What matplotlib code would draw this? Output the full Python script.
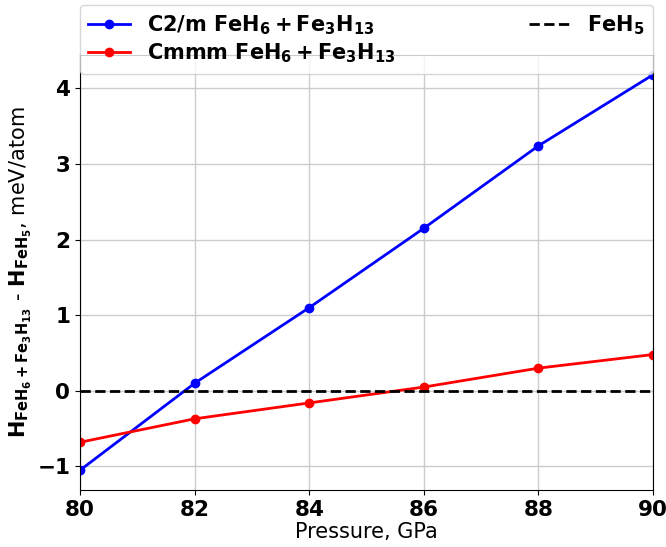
import matplotlib
matplotlib.use("Agg")
import matplotlib.pyplot as plt

pressure = [80, 82, 84, 86, 88, 90]
c2m_diff = [-1.05, 0.10, 1.10, 2.15, 3.24, 4.18]
cmmm_diff = [-0.68, -0.37, -0.16, 0.05, 0.30, 0.48]
x_ticks = [80, 82, 84, 86, 88, 90]
y_ticks = [-1, 0, 1, 2, 3, 4]

label_c2m = r'C2/m $\mathbf{FeH_6 + Fe_3H_{13}}$'
label_cmmm = r'Cmmm $\mathbf{FeH_6 + Fe_3H_{13}}$'
label_ref = r'$\mathbf{FeH_5}$'
ylabel = r'$\mathbf{H_{FeH_6 + Fe_3H_{13}}}$ - $\mathbf{H_{FeH_5}}$, meV/atom'

fig = plt.figure(figsize=(6.66, 5.47), dpi=100)
ax = fig.add_axes([80 / 666, 1 - 490 / 547, (653 - 80) / 666, (490 - 55) / 547])

l1, = ax.plot(pressure, c2m_diff, color='blue', lw=2, marker='o', ms=6, label=label_c2m)
l2, = ax.plot(pressure, cmmm_diff, color='red', lw=2, marker='o', ms=6, label=label_cmmm)
l3 = ax.axhline(0, color='black', lw=2, ls='--', label=label_ref)

ax.set_xlim(80, 90)
ax.set_xticks(x_ticks)
ax.set_yticks(y_ticks)
ax.grid(True, color='#cccccc', lw=1)
ax.set_axisbelow(True)

for lab in ax.get_xticklabels() + ax.get_yticklabels():
    lab.set_fontweight('bold')
ax.tick_params(labelsize=15.5)

ax.set_xlabel('Pressure, GPa', fontsize=15, labelpad=2)
ax.set_ylabel(ylabel, fontsize=15, labelpad=2)

ax.legend(handles=[l1, l2, l3], ncol=2, mode='expand',
          bbox_to_anchor=(0, 0.957, 1, 0.149), loc='lower left',
          prop={'weight': 'bold', 'size': 15}, borderaxespad=0,
          handlelength=2.0, columnspacing=1.0, labelspacing=0.25)

fig.savefig('out.png', dpi=100)
